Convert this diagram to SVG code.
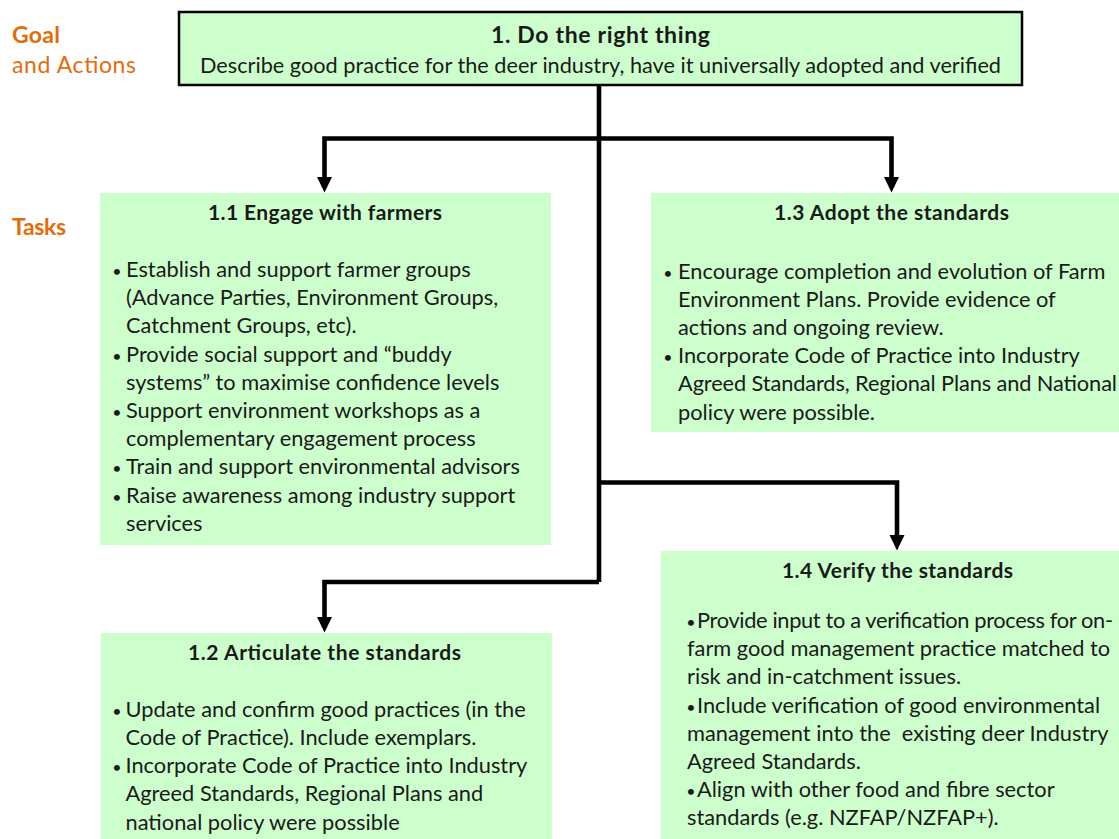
<svg xmlns="http://www.w3.org/2000/svg" width="1119" height="839" viewBox="0 0 1119 839">
  <style>
    .box { fill: #ccffcc; }
    .goalbox { fill: #ccffcc; stroke: #000; stroke-width: 2.5; }
    .t { font-family: Lato, "Liberation Sans", sans-serif; fill: #1a1a1a; }
    .body { font-size: 21.8px; }
    .head { font-size: 21px; font-weight: bold; }
    .bul { font-size: 16px; text-anchor: middle; }
    .lbl { font-family: Lato, "Liberation Sans", sans-serif; fill: #e46c0a; font-size: 23px; }
    .wire { fill: none; stroke: #000; stroke-width: 4.6; stroke-linejoin: miter; marker-end: url(#tip); }
    .trunk { fill: none; stroke: #000; stroke-width: 4.6; }
  </style>
  <defs>
    <marker id="tip" markerUnits="userSpaceOnUse" markerWidth="16" markerHeight="16" viewBox="0 -8 16 16" refX="0" refY="0" orient="auto">
      <path d="M0,-7.5 L15.5,0 L0,7.5 Z" fill="#000"/>
    </marker>
  </defs>

  <rect width="1119" height="839" fill="#fff"/>

  <!-- row labels -->
  <g id="row-labels">
    <text class="lbl" x="12" y="42.7" font-weight="bold" textLength="48">Goal</text>
    <text class="lbl" x="12" y="73.3" textLength="124">and Actions</text>
    <text class="lbl" x="12" y="235" font-weight="bold" textLength="54">Tasks</text>
  </g>

  <!-- connectors -->
  <g id="connectors">
    <path class="trunk" d="M599,86 V582"/>
    <path class="wire" d="M599,138.5 H324.5 V177"/>
    <path class="wire" d="M599,138.5 H891.5 V177"/>
    <path class="wire" d="M599,482.5 H897 V535"/>
    <path class="wire" d="M599,582 H324.5 V617"/>
  </g>

  <!-- goal -->
  <g id="goal-1">
    <rect class="goalbox" x="179" y="12" width="843" height="73"/>
    <text class="t" x="491" y="43" font-size="23" font-weight="bold" textLength="219">1. Do the right thing</text>
    <text class="t" x="200" y="73.3" font-size="21.7" textLength="801">Describe good practice for the deer industry, have it universally adopted and verified</text>
  </g>

  <!-- task 1.1 -->
  <g id="task-1-1">
    <rect class="box" x="100" y="193" width="451" height="352"/>
    <text class="t head" x="208" y="220" textLength="234">1.1 Engage with farmers</text>
    <text class="t bul" x="117" y="277">•</text>
    <text class="t body" x="126" y="277">Establish and support farmer groups</text>
    <text class="t body" x="126" y="305.2">(Advance Parties, Environment Groups,</text>
    <text class="t body" x="126" y="333.4">Catchment Groups, etc).</text>
    <text class="t bul" x="117" y="361.6">•</text>
    <text class="t body" x="126" y="361.6">Provide social support and “buddy</text>
    <text class="t body" x="126" y="389.8">systems” to maximise confidence levels</text>
    <text class="t bul" x="117" y="418">•</text>
    <text class="t body" x="126" y="418">Support environment workshops as a</text>
    <text class="t body" x="126" y="446.2">complementary engagement process</text>
    <text class="t bul" x="117" y="474.4">•</text>
    <text class="t body" x="126" y="474.4">Train and support environmental advisors</text>
    <text class="t bul" x="117" y="502.6">•</text>
    <text class="t body" x="126" y="502.6">Raise awareness among industry support</text>
    <text class="t body" x="126" y="530.8">services</text>
  </g>

  <!-- task 1.3 -->
  <g id="task-1-3">
    <rect class="box" x="651" y="193" width="468" height="239"/>
    <text class="t head" x="774" y="220" textLength="235">1.3 Adopt the standards</text>
    <text class="t bul" x="668" y="278.5">•</text>
    <text class="t body" x="678" y="278.5">Encourage completion and evolution of Farm</text>
    <text class="t body" x="678" y="306.7">Environment Plans. Provide evidence of</text>
    <text class="t body" x="678" y="334.9">actions and ongoing review.</text>
    <text class="t bul" x="668" y="363.1">•</text>
    <text class="t body" x="678" y="363.1">Incorporate Code of Practice into Industry</text>
    <text class="t body" x="678" y="391.3" textLength="439">Agreed Standards, Regional Plans and National</text>
    <text class="t body" x="678" y="419.5">policy were possible.</text>
  </g>

  <!-- task 1.2 -->
  <g id="task-1-2">
    <rect class="box" x="101" y="633" width="451" height="206"/>
    <text class="t head" x="188" y="660" textLength="273">1.2 Articulate the standards</text>
    <text class="t bul" x="117" y="716.7">•</text>
    <text class="t body" x="125.5" y="716.7">Update and confirm good practices (in the</text>
    <text class="t body" x="125.5" y="744.9">Code of Practice). Include exemplars.</text>
    <text class="t bul" x="117" y="773.1">•</text>
    <text class="t body" x="125.5" y="773.1">Incorporate Code of Practice into Industry</text>
    <text class="t body" x="125.5" y="801.3">Agreed Standards, Regional Plans and</text>
    <text class="t body" x="125.5" y="829.5">national policy were possible</text>
  </g>

  <!-- task 1.4 -->
  <g id="task-1-4">
    <rect class="box" x="661" y="551" width="458" height="288"/>
    <text class="t head" x="782" y="578" textLength="231">1.4 Verify the standards</text>
    <text class="t bul" x="691" y="628">•</text>
    <text class="t body" x="697" y="628" textLength="416">Provide input to a verification process for on-</text>
    <text class="t body" x="687" y="656.2">farm good management practice matched to</text>
    <text class="t body" x="687" y="684.4">risk and in-catchment issues.</text>
    <text class="t bul" x="691" y="712.6">•</text>
    <text class="t body" x="697" y="712.6">Include verification of good environmental</text>
    <text class="t body" x="687" y="740.8" xml:space="preserve">management into the  existing deer Industry</text>
    <text class="t body" x="687" y="769">Agreed Standards.</text>
    <text class="t bul" x="691" y="797.2">•</text>
    <text class="t body" x="697" y="797.2">Align with other food and fibre sector</text>
    <text class="t body" x="687" y="825.4">standards (e.g. NZFAP/NZFAP+).</text>
  </g>
</svg>
